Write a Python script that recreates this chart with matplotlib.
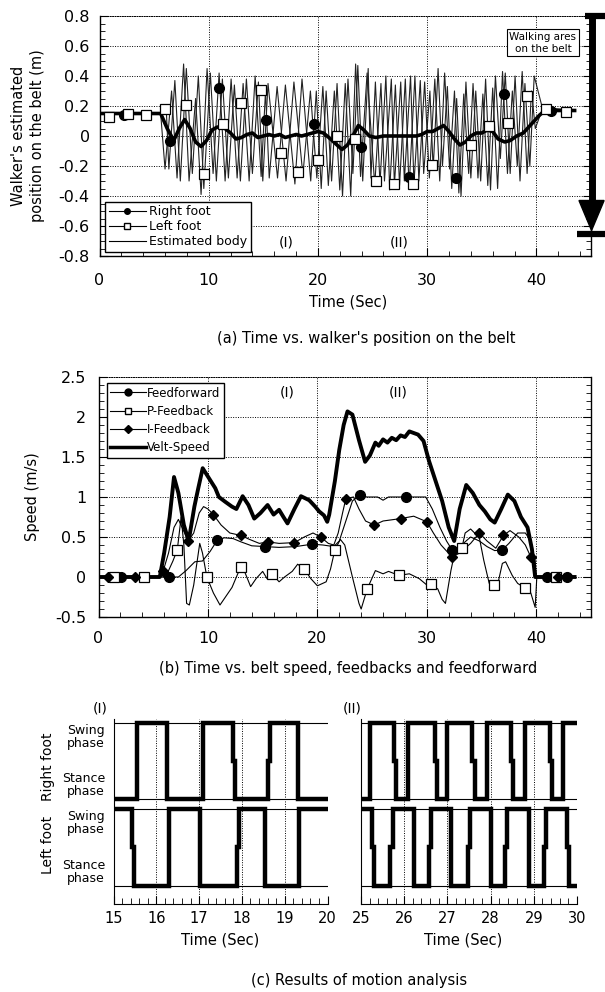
import matplotlib
matplotlib.use('Agg')
import matplotlib.pyplot as plt
import matplotlib.transforms as mtransforms
from matplotlib.lines import Line2D
from matplotlib.ticker import MultipleLocator

plt.rcParams['font.family'] = ['DejaVu Sans']

# ----- (a) walker's position on the belt -----
rf_t = [0, 5.6, 6.0, 6.6, 7.1, 7.7, 8.2, 8.8, 9.3, 9.85, 10.4, 10.95, 11.5, 12.05, 12.6, 13.15,
        13.7, 14.25, 14.8, 15.2, 15.54, 16.26, 17.08, 17.8, 18.62, 19.31, 19.9, 20.45, 20.95,
        21.5, 22.0, 22.5, 23.0, 23.45, 23.9, 24.5, 25.2, 25.77, 26.09, 26.72, 27.0, 27.58,
        27.91, 28.48, 28.79, 29.37, 29.68, 30.25, 30.55, 31.0, 31.4, 31.85, 32.25, 32.7, 33.1,
        33.55, 34.0, 34.45, 34.9, 35.35, 35.8, 36.25, 36.7, 37.15, 37.6, 38.05, 38.5, 38.95,
        39.4, 39.8, 40.5, 41.3, 43.5]
rf_v = [0.15, 0.15, -0.22, 0.30, -0.28, 0.48, -0.30, 0.25, -0.39, 0.45, -0.25, 0.42, -0.30, 0.38,
        -0.28, 0.35, -0.30, 0.40, -0.27, 0.30, -0.28, 0.33, -0.30, 0.36, -0.26, 0.30, -0.28,
        0.33, -0.33, 0.30, -0.36, 0.35, -0.40, 0.48, -0.27, 0.42, -0.33, 0.35, -0.30, 0.38,
        -0.33, 0.36, -0.30, 0.40, -0.32, 0.37, -0.25, 0.30, -0.22, 0.45, -0.20, 0.33, -0.35,
        0.25, -0.40, 0.36, -0.28, 0.30, -0.30, 0.38, -0.36, 0.40, -0.15, 0.42, -0.25, 0.40,
        -0.30, 0.35, -0.20, 0.40, 0.20, 0.17, 0.17]
lf_t = [0, 5.6, 6.1, 6.35, 6.9, 7.4, 7.95, 8.5, 9.05, 9.55, 10.15, 10.7, 11.25, 11.8, 12.35,
        12.9, 13.45, 14.0, 14.55, 14.95, 15.43, 16.3, 17.02, 17.89, 18.54, 19.34, 19.85, 20.3,
        20.75, 21.25, 21.75, 22.25, 22.75, 23.2, 23.65, 24.1, 24.6, 24.85, 25.26, 25.68, 26.22,
        26.57, 27.09, 27.47, 28.0, 28.34, 28.88, 29.24, 29.77, 30.2, 30.7, 31.15, 31.6, 32.05,
        32.5, 32.9, 33.35, 33.8, 34.2, 34.65, 35.1, 35.55, 36.0, 36.45, 36.9, 37.35, 37.8,
        38.25, 38.7, 39.15, 39.55, 39.9, 40.6, 43.5]
lf_v = [0.15, 0.15, 0.20, -0.22, 0.37, -0.30, 0.45, -0.25, 0.40, -0.35, 0.42, -0.30, 0.38,
        -0.28, 0.34, -0.30, 0.38, -0.25, 0.36, -0.30, 0.35, -0.28, 0.34, -0.32, 0.38, -0.30,
        0.30, -0.35, 0.30, -0.30, 0.35, -0.40, 0.38, -0.25, 0.47, -0.30, 0.45, -0.28, 0.36,
        -0.32, 0.40, -0.36, 0.34, -0.33, 0.38, -0.35, 0.40, -0.30, 0.36, -0.28, 0.38, -0.30,
        0.42, -0.22, 0.30, -0.38, 0.28, -0.25, 0.35, -0.28, 0.28, -0.33, 0.32, -0.35, 0.43,
        -0.25, 0.30, -0.20, 0.43, -0.25, 0.30, 0.05, 0.19, 0.17]
rf_mark_t = [2.2, 6.5, 10.9, 15.2, 19.6, 23.9, 28.3, 32.6, 37.0, 41.3]
rf_mark_v = [0.14, -0.03, 0.32, 0.11, 0.08, -0.07, -0.27, -0.28, 0.28, 0.17]
lf_mark_t = [0.85, 2.6, 4.3, 6.0, 7.9, 9.6, 11.3, 13.0, 14.8, 16.6, 18.2, 20.0, 21.7, 23.4,
             25.3, 27.0, 28.7, 30.4, 34.0, 35.7, 37.4, 39.1, 40.9, 42.7]
lf_mark_v = [0.13, 0.15, 0.14, 0.18, 0.21, -0.25, 0.08, 0.22, 0.31, -0.11, -0.24, -0.16, 0.0, -0.02,
             -0.30, -0.32, -0.32, -0.19, -0.06, 0.07, 0.09, 0.27, 0.18, 0.16]
body_t = [0, 5.6, 6.2, 6.8, 7.3, 7.8, 8.3, 8.8, 9.3, 9.8, 10.3, 10.8, 11.5, 12.0, 12.5, 13.0,
          13.5, 14.0, 14.5, 15.0, 15.5, 16.0, 16.5, 17.0, 17.5, 18.0, 18.5, 19.0, 19.5, 20.0,
          20.5, 21.0, 21.6, 22.2, 22.7, 23.2, 23.7, 24.2, 24.7, 25.3, 26.0, 27.0, 28.0, 29.0,
          29.5, 30.0, 30.5, 31.0, 31.5, 32.0, 32.5, 33.0, 33.5, 34.0, 34.5, 35.0, 35.5, 36.0,
          36.5, 37.1, 37.6, 38.2, 38.8, 39.3, 39.8, 40.3, 40.8, 41.3, 43.5]
body_v = [0.15, 0.15, 0.05, -0.03, 0.05, 0.11, 0.05, -0.04, -0.07, -0.03, 0.04, 0.06, 0.05, 0.02,
          -0.02, -0.01, 0.01, 0.02, -0.01, 0.0, 0.01, 0.0, 0.01, -0.01, 0.0, 0.01, 0.0, 0.01,
          0.02, 0.03, 0.02, -0.01, -0.05, -0.09, -0.06, 0.0, 0.07, 0.04, 0.0, -0.01, 0.0, 0.0,
          0.0, 0.0, 0.01, 0.03, 0.03, 0.05, 0.07, 0.03, -0.02, -0.06, -0.04, 0.0, 0.02, 0.02,
          0.04, 0.03, -0.02, -0.04, -0.03, 0.0, 0.02, 0.06, 0.10, 0.14, 0.17, 0.17, 0.17]
a_yticks = [-0.8, -0.6, -0.4, -0.2, 0, 0.2, 0.4, 0.6, 0.8]
a_yticklabels = ['-0.8', '-0.6', '-0.4', '-0.2', '0', '0.2', '0.4', '0.6', '0.8']
walk_top, walk_bottom = 0.8, -0.65

# ----- (b) belt speed, feedbacks and feedforward -----
ff_t = [0, 7.3, 8.0, 8.8, 9.5, 10.2, 10.85, 11.5, 12.3, 13.0, 14.0, 15.25, 16.5, 18.0, 19.5,
        20.5, 21.5, 22.0, 22.6, 23.2, 23.9, 24.5, 25.5, 26.0, 26.5, 28.1, 29.0, 29.9, 30.5,
        31.2, 31.8, 32.3, 33.0, 34.0, 34.8, 35.5, 36.2, 36.9, 37.5, 38.3, 39.0, 39.5, 39.9,
        40.0, 43.5]
ff_v = [0, 0, 0.08, 0.19, 0.2, 0.32, 0.46, 0.49, 0.48, 0.44, 0.39, 0.38, 0.37, 0.38, 0.41,
        0.4, 0.38, 0.45, 0.7, 0.95, 1.03, 1.0, 1.0, 0.96, 1.0, 1.0, 1.0, 1.0, 0.85,
        0.62, 0.45, 0.34, 0.38, 0.5, 0.45, 0.38, 0.33, 0.34, 0.42, 0.55, 0.55, 0.45, 0.2,
        0, 0]
ff_marks = [2.05, 6.45, 10.85, 15.25, 19.5, 23.9, 28.1, 32.3, 36.9, 41.0, 42.8]
pf_t = [0, 5.6, 6.3, 6.8, 7.2, 7.55, 7.8, 8.05, 8.3, 8.7, 9.25, 9.5, 9.9, 10.5, 11.1, 11.6,
        12.2, 12.6, 13.0, 13.4, 13.9, 14.4, 15.0, 15.4, 15.85, 16.5, 17.0, 17.7, 18.2, 18.8,
        19.4, 20.0, 20.8, 21.2, 21.6, 22.1, 22.5, 23.2, 23.8, 24.0, 24.55, 25.3, 26.0, 26.5,
        27.46, 28.4, 29.3, 30.0, 30.35, 31.0, 31.4, 31.7, 32.2, 32.6, 33.2, 33.5, 34.0, 34.8,
        35.2, 35.7, 36.1, 36.4, 36.9, 37.2, 37.8, 38.3, 39.0, 39.5, 39.9, 40.05, 43.5]
pf_v = [0, 0, 0.05, 0.2, 0.34, 0.75, 0.4, -0.33, -0.35, -0.1, 0.42, 0.3, 0.0, -0.2, -0.35, -0.25,
        -0.13, 0.0, 0.13, 0.05, -0.12, -0.02, 0.07, -0.02, 0.04, -0.06, 0.0, 0.07, 0.16, 0.1,
        -0.02, -0.11, -0.06, 0.1, 0.34, 0.47, 0.4, 0.0, -0.33, -0.4, -0.15, 0.08, 0.04, 0.07,
        0.02, 0.04, -0.02, -0.1, -0.09, -0.15, -0.28, -0.33, 0.08, 0.34, 0.36, 0.55, 0.6, 0.49,
        0.21, -0.08, -0.1, -0.14, 0.17, 0.19, 0.02, -0.08, -0.14, -0.2, -0.38, 0, 0]
pf_marks = [1.4, 4.2, 7.2, 9.9, 13.0, 15.85, 18.8, 21.6, 24.55, 27.46, 30.35, 33.2, 36.1, 39.0, 41.8]
if_t = [0, 5.6, 5.9, 6.4, 6.9, 7.3, 7.7, 8.2, 8.7, 9.2, 9.6, 10.0, 10.5, 11.2, 12.0, 13.0,
        13.8, 14.7, 15.45, 16.5, 17.9, 18.8, 19.6, 20.3, 21.0, 21.5, 21.9, 22.3, 22.6, 23.3,
        23.8, 24.4, 25.2, 26.0, 27.6, 28.8, 30.0, 30.6, 31.3, 32.3, 33.0, 34.0, 34.8, 35.5,
        36.3, 37.0, 37.6, 38.4, 39.0, 39.5, 39.9, 40.0, 43.5]
if_v = [0, 0, 0.07, 0.3, 0.62, 0.72, 0.6, 0.45, 0.55, 0.8, 0.88, 0.85, 0.78, 0.65, 0.55, 0.52,
        0.47, 0.42, 0.44, 0.42, 0.43, 0.5, 0.55, 0.5, 0.42, 0.4, 0.55, 0.8, 0.98, 1.0,
        0.85, 0.7, 0.65, 0.7, 0.73, 0.76, 0.69, 0.55, 0.4, 0.25, 0.3, 0.42, 0.55, 0.45,
        0.36, 0.52, 0.58, 0.5, 0.4, 0.25, 0.05, 0, 0]
if_marks = [0.9, 3.3, 5.9, 8.2, 10.5, 13.0, 15.45, 17.9, 20.3, 22.6, 25.2, 27.6, 30.0, 32.3,
            34.8, 37.0, 39.5, 42.0]
vs_t = [0, 5.6, 6.0, 6.5, 6.9, 7.3, 7.8, 8.24, 8.76, 9.1, 9.52, 10.07, 10.67, 11.0, 11.58,
        12.19, 12.6, 13.17, 13.7, 14.23, 14.8, 15.45, 16.0, 16.5, 16.9, 17.27, 17.9, 18.5,
        19.25, 19.8, 20.16, 20.6, 20.9, 21.08, 21.6, 22.0, 22.4, 22.75, 23.2, 23.8, 24.36,
        24.8, 25.3, 25.6, 26.0, 26.4, 26.8, 27.2, 27.6, 28.0, 28.4, 28.8, 29.2, 29.7, 30.2,
        30.8, 31.4, 32.0, 32.5, 33.0, 33.6, 34.2, 34.8, 35.3, 35.8, 36.2, 36.8, 37.4, 38.0,
        38.6, 39.2, 39.6, 39.9, 43.5]
vs_v = [0, 0, 0.3, 0.75, 1.25, 1.05, 0.65, 0.45, 0.88, 1.1, 1.36, 1.24, 1.11, 1.0, 0.94,
        0.88, 0.85, 1.01, 0.9, 0.73, 0.8, 0.9, 0.78, 0.84, 0.75, 0.67, 0.85, 1.01,
        0.96, 0.88, 0.82, 0.77, 0.69, 0.78, 1.2, 1.59, 1.9, 2.07, 2.03, 1.71, 1.44,
        1.52, 1.68, 1.64, 1.72, 1.68, 1.74, 1.71, 1.77, 1.75, 1.82, 1.8, 1.78, 1.7, 1.45,
        1.2, 0.95, 0.62, 0.45, 0.85, 1.15, 1.05, 0.9, 0.82, 0.72, 0.68, 0.85, 1.03, 0.95,
        0.75, 0.62, 0.35, 0.0, 0.0]
b_yticks = [-0.5, 0, 0.5, 1, 1.5, 2, 2.5]
b_yticklabels = ['-0.5', '0', '0.5', '1', '1.5', '2', '2.5']

# ----- (c) motion analysis (1 = swing, 0 = stance) -----
r1_t = [15.0, 15.54, 16.26, 17.08, 17.80, 17.84, 18.62, 18.66, 19.31, 20.0]
r1_s = [0, 1, 0, 1, 0.5, 0, 0.5, 1, 0, 0]
l1_t = [15.0, 15.43, 15.47, 16.3, 17.02, 17.89, 17.93, 18.54, 19.34, 20.0]
l1_s = [1, 0.5, 0, 1, 0, 0.5, 1, 0, 1, 1]
r2_t = [25.0, 25.2, 25.77, 25.82, 26.09, 26.72, 26.77, 27.0, 27.58, 27.63, 27.91, 28.48,
        28.53, 28.79, 29.37, 29.42, 29.68, 30.0]
r2_s = [0, 1, 0.5, 0, 1, 0.5, 0, 1, 0.5, 0, 1, 0.5, 0, 1, 0.5, 0, 1, 1]
l2_t = [25.0, 25.26, 25.31, 25.68, 25.73, 26.22, 26.57, 26.62, 27.09, 27.47, 27.52, 28.0,
        28.34, 28.39, 28.88, 29.24, 29.29, 29.77, 29.82, 30.0]
l2_s = [1, 0.5, 0, 0.5, 1, 0, 0.5, 1, 0, 0.5, 1, 0, 0.5, 1, 0, 0.5, 1, 0.5, 0, 0]
# phase line levels (left stance, left swing, right stance, right swing)
levels = [0.0, 1.0, 1.13, 2.12]

W, H = 605, 992
fig = plt.figure(figsize=(W / 100, H / 100), dpi=100)


def px_axes(x0, x1, y0, y1):
    return fig.add_axes([x0 / W, 1 - y1 / H, (x1 - x0) / W, (y1 - y0) / H])


dot = (0, (1, 1.5))


def style_box(ax, xmin, ymaj, ymin):
    ax.xaxis.set_major_locator(MultipleLocator(10))
    ax.xaxis.set_minor_locator(MultipleLocator(xmin))
    ax.yaxis.set_minor_locator(MultipleLocator(ymin))
    ax.grid(True, which='major', color='k', linestyle=dot, linewidth=0.7)
    ax.spines['top'].set_linestyle(dot)
    ax.spines['top'].set_linewidth(0.7)
    for s in ['left', 'right', 'bottom']:
        ax.spines[s].set_linewidth(1.0)
    ax.tick_params(which='both', direction='in', left=True, right=True, top=False,
                   labelsize=11.5)
    ax.tick_params(which='major', length=6)
    ax.tick_params(which='minor', length=3.5)


# ---------------- (a) ----------------
ax = px_axes(99.5, 591, 16, 256)
ax.plot(rf_t, rf_v, color='#222222', lw=0.8)
ax.plot(lf_t, lf_v, color='#222222', lw=0.8)
ax.plot(body_t, body_v, color='k', lw=2.6)
ax.plot(rf_mark_t, rf_mark_v, ls='none', marker='o', ms=7, color='k')
ax.plot(lf_mark_t, lf_mark_v, ls='none', marker='s', ms=6.5, mfc='white', mec='k', mew=0.9)
ax.set_xlim(0, 45)
ax.set_ylim(-0.8, 0.8)
ax.set_yticks(a_yticks)
ax.set_yticklabels(a_yticklabels)
style_box(ax, 2, 0.2, 0.05)
ax.tick_params(axis='x', pad=12)
ax.tick_params(axis='y', pad=7)
ax.text(17.1, -0.71, '(I)', ha='center', va='center', fontsize=10)
ax.text(27.4, -0.71, '(II)', ha='center', va='center', fontsize=10)

# walking area arrow
ax.plot([45.1, 45.1], [walk_top, -0.45], color='k', lw=5, clip_on=False, solid_capstyle='butt')
ax.plot([44.45, 46.3], [walk_top, walk_top], color='k', lw=4.5, clip_on=False, solid_capstyle='butt')
ax.plot([43.7, 46.3], [walk_bottom, walk_bottom], color='k', lw=4.5, clip_on=False,
        solid_capstyle='butt')
ax.fill([43.9, 46.2, 45.05], [-0.43, -0.43, walk_bottom + 0.02], color='k', clip_on=False)
ax.text(40.6, 0.623, 'Walking ares\non the belt', ha='center', va='center', fontsize=7.5,
        linespacing=1.25,
        bbox=dict(boxstyle='square,pad=0.25', fc='white', ec='k', lw=0.8))

hands = [Line2D([], [], color='k', lw=0.8, marker='o', ms=4),
         Line2D([], [], color='k', lw=0.8, marker='s', ms=4, mfc='white'),
         Line2D([], [], color='k', lw=0.8)]
leg = ax.legend(hands, ['Right foot', 'Left foot', 'Estimated body'], loc='lower left',
                bbox_to_anchor=(0.011, 0.017), fontsize=9, frameon=True, fancybox=False,
                framealpha=1, edgecolor='k', borderpad=0.3, labelspacing=0.15,
                handlelength=3.0, handletextpad=0.2, borderaxespad=0)
leg.get_frame().set_linewidth(1.0)

fig.text(28 / W, 1 - 136 / H, "Walker's estimated\nposition on the belt (m)", rotation=90,
         ha='center', va='center', fontsize=10.5, linespacing=1.35)
fig.text(348 / W, 1 - 302 / H, 'Time (Sec)', ha='center', va='center', fontsize=10.5)
fig.text(366 / W, 1 - 338 / H, "(a) Time vs. walker's position on the belt", ha='center',
         va='center', fontsize=10.5)

# ---------------- (b) ----------------
bx = px_axes(98.5, 591, 377, 617)
bx.plot(ff_t, ff_v, color='k', lw=0.8, marker='o', ms=7,
        markevery=[i for i, t in enumerate(ff_t) if t in ff_marks])
bx.plot(pf_t, pf_v, color='k', lw=0.8)
bx.plot(if_t, if_v, color='k', lw=0.8)
bx.plot(vs_t, vs_v, color='k', lw=2.8)
bx.plot(ff_marks, [0 if t < 7 or t > 40 else None for t in ff_marks], ls='none',
        marker='o', ms=7, color='k')
bx.plot(pf_marks, [pf_v[pf_t.index(t)] if t in pf_t else 0 for t in pf_marks], ls='none',
        marker='s', ms=6.5, mfc='white', mec='k', mew=0.9)
bx.plot(if_marks, [if_v[if_t.index(t)] if t in if_t else 0 for t in if_marks], ls='none',
        marker='D', ms=5.5, color='k')
bx.set_xlim(0, 45)
bx.set_ylim(-0.5, 2.5)
bx.set_yticks(b_yticks)
bx.set_yticklabels(b_yticklabels)
style_box(bx, 2, 0.5, 0.1)
bx.tick_params(axis='x', pad=10)
bx.tick_params(axis='y', pad=9)
bx.text(17.2, 2.31, '(I)', ha='center', va='center', fontsize=10)
bx.text(27.4, 2.31, '(II)', ha='center', va='center', fontsize=10)

hands = [Line2D([], [], color='k', lw=0.8, marker='o', ms=5),
         Line2D([], [], color='k', lw=0.8, marker='s', ms=4.5, mfc='white'),
         Line2D([], [], color='k', lw=0.8, marker='D', ms=4),
         Line2D([], [], color='k', lw=2.5)]
leg = bx.legend(hands, ['Feedforward', 'P-Feedback', 'I-Feedback', 'Velt-Speed'],
                loc='upper left', bbox_to_anchor=(0.017, 0.975), fontsize=8.5, frameon=True,
                fancybox=False, framealpha=1, edgecolor='k', borderpad=0.3,
                labelspacing=0.45, handlelength=3.0, handletextpad=0.1, borderaxespad=0)
leg.get_frame().set_linewidth(1.0)

fig.text(33 / W, 1 - 497 / H, 'Speed (m/s)', rotation=90, ha='center', va='center',
         fontsize=10.5)
fig.text(348 / W, 1 - 668 / H, '(b) Time vs. belt speed, feedbacks and feedforward',
         ha='center', va='center', fontsize=10.5)

# ---------------- (c) ----------------
panels = [(113.5, 327.5, 15, r1_t, r1_s, l1_t, l1_s, 100, '(I)', 220),
          (361, 577, 25, r2_t, r2_s, l2_t, l2_s, 352, '(II)', 463)]
for x0, x1, t0, rt, rs, lt, ls, lab_x, lab, tx in panels:
    cx = px_axes(x0, x1, 719, 904)
    for lv in levels:
        cx.axhline(lv, color='k', lw=0.8)
    ry = [levels[2] + s * (levels[3] - levels[2]) for s in rs]
    ly = [levels[0] + s * (levels[1] - levels[0]) for s in ls]
    cx.plot(rt, ry, color='k', lw=3.2, drawstyle='steps-post', solid_joinstyle='miter')
    cx.plot(lt, ly, color='k', lw=3.2, drawstyle='steps-post', solid_joinstyle='miter')
    cx.set_xlim(t0, t0 + 5)
    cx.set_ylim(-0.234, 2.169)
    cx.xaxis.set_major_locator(MultipleLocator(1))
    cx.xaxis.set_minor_locator(MultipleLocator(0.2))
    cx.set_yticks([])
    cx.spines['top'].set_visible(False)
    cx.spines['right'].set_visible(False)
    cx.grid(True, axis='x', which='major', color='k', linestyle=dot, linewidth=0.7)
    cx.tick_params(which='both', direction='in', labelsize=10.5, pad=5)
    cx.tick_params(which='major', length=6)
    cx.tick_params(which='minor', length=4)
    fig.text(lab_x / W, 1 - 708 / H, lab, ha='center', va='center', fontsize=10)
    fig.text(tx / W, 1 - 940 / H, 'Time (Sec)', ha='center', va='center', fontsize=10.5)

    if t0 == 15:
        tr = mtransforms.blended_transform_factory(cx.transAxes, cx.transData)
        for yy, txt in [(1.935, 'Swing\nphase'), (1.31, 'Stance\nphase'),
                        (0.82, 'Swing\nphase'), (0.18, 'Stance\nphase')]:
            cx.text(-0.04, yy, txt, transform=tr, ha='right', va='center', fontsize=9,
                    linespacing=1.0)
        cx.text(-0.306, 1.545, 'Right foot', transform=tr, rotation=90, ha='center',
                va='center', fontsize=10)
        cx.text(-0.306, 0.53, 'Left foot', transform=tr, rotation=90, ha='center',
                va='center', fontsize=10)

fig.text(359 / W, 1 - 980 / H, '(c) Results of motion analysis', ha='center', va='center',
         fontsize=10.5)

fig.savefig('out.png', dpi=100)
